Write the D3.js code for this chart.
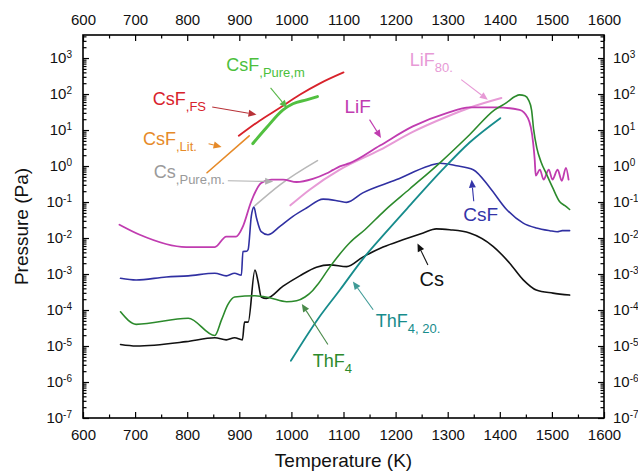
<!DOCTYPE html>
<html>
<head>
<meta charset="utf-8">
<script src="https://cdn.jsdelivr.net/npm/d3@7"></script>
<style>
  body { margin: 0; background: #fff; }
  svg { display: block; font-family: "Liberation Sans", Arial, Helvetica, sans-serif; }
</style>
</head>
<body>
<svg id="chart" width="638" height="472"></svg>
<script>
// Vapour pressure vs temperature (T in K, P in Pa)
const lifT = [670, 709, 798, 853, 875, 894, 907, 923, 942, 962, 984, 1010, 1041, 1067, 1080, 1093, 1112, 1170, 1233, 1298, 1342, 1393, 1438, 1454, 1464, 1467, 1469, 1477, 1484, 1494, 1501, 1511, 1519, 1527, 1532];
const lifP = [2.34e-2, 1.23e-2, 5.6e-3, 5.6e-3, 1.1e-2, 1.1e-2, 2.1e-2, 0.105, 0.34, 0.42, 0.42, 0.36, 0.44, 0.62, 0.78, 0.98, 1.2, 3.7, 12.6, 29.5, 42.7, 42.7, 36.3, 21.4, 4.4, 1.5, 0.54, 0.79, 0.42, 0.79, 0.42, 0.79, 0.39, 0.89, 0.42];

const lif80T = [998, 1035, 1093, 1170, 1233, 1298, 1342, 1403];
const lif80P = [8.1e-2, 0.22, 0.79, 2.8, 8.9, 23.4, 41.7, 77.6];

const csfT = [672, 702, 760, 802, 853, 875, 891, 904, 907, 914, 917, 923, 928, 933, 942, 955, 978, 1003, 1029, 1061, 1093, 1106, 1137, 1202, 1265, 1285, 1317, 1349, 1381, 1413, 1445, 1470, 1496, 1510, 1520, 1534];
const csfP = [7.6e-4, 6.8e-4, 8.3e-4, 8.9e-4, 1.05e-3, 8.9e-4, 1.05e-3, 9.3e-4, 4.2e-3, 4.3e-3, 4.8e-3, 4.0e-2, 7.2e-2, 3.6e-2, 1.5e-2, 1.23e-2, 2.1e-2, 4.0e-2, 6.8e-2, 0.12, 0.105, 9.8e-2, 0.18, 0.42, 1.02, 1.2, 1.02, 0.79, 0.25, 6.2e-2, 2.6e-2, 1.9e-2, 1.6e-2, 1.5e-2, 1.6e-2, 1.6e-2];

const csT = [672, 702, 798, 853, 875, 891, 906, 910, 917, 930, 936, 942, 952, 984, 1016, 1048, 1074, 1106, 1137, 1176, 1214, 1253, 1278, 1304, 1342, 1387, 1419, 1445, 1470, 1502, 1534];
const csP = [1.1e-5, 1.0e-5, 1.32e-5, 1.7e-5, 1.48e-5, 1.7e-5, 1.48e-5, 4.6e-5, 4.6e-5, 1.29e-3, 6.2e-4, 2.3e-4, 2.1e-4, 4.6e-4, 8.9e-4, 1.55e-3, 1.8e-3, 1.6e-3, 2.95e-3, 5.6e-3, 8.9e-3, 1.38e-2, 1.8e-2, 1.7e-2, 1.38e-2, 5.9e-3, 2.0e-3, 6.9e-4, 3.6e-4, 2.95e-4, 2.6e-4];

const thf4T = [672, 702, 802, 853, 866, 878, 891, 930, 958, 991, 1010, 1026, 1041, 1050, 1074, 1112, 1141, 1179, 1227, 1285, 1342, 1390, 1413, 1429, 1438, 1448, 1455, 1461, 1465, 1471, 1479, 1490, 1501, 1515, 1525, 1534];
const thf4P = [8.9e-5, 4.0e-5, 5.9e-5, 1.95e-5, 5.4e-5, 1.41e-4, 2.3e-4, 2.5e-4, 2.2e-4, 1.7e-4, 1.8e-4, 2.3e-4, 3.5e-4, 5.0e-4, 1.58e-3, 7.4e-3, 1.7e-2, 5.8e-2, 0.23, 1.23, 7.4, 36.3, 57.5, 85, 95, 89, 69, 36, 10.2, 3.2, 1.32, 0.58, 0.26, 0.102, 7.9e-2, 6.2e-2];

const thf420T = [999, 1050, 1093, 1137, 1179, 1227, 1290, 1342, 1401];
const thf420P = [3.9e-6, 5.4e-5, 3.6e-4, 2.6e-3, 1.32e-2, 7.9e-2, 0.79, 4.5, 21.4];

const csfFsT = [899, 939, 978, 1016, 1054, 1100];
const csfFsP = [6.9, 18.2, 41.7, 95.5, 195, 398];

const csfPureT = [926, 952, 984, 1003, 1029, 1050];
const csfPureP = [4.2, 11.5, 36.3, 53.7, 69, 85];

const csfLitT = [838, 919];
const csfLitP = [0.65, 6.9];

const csPureT = [930, 978, 1050];
const csPureP = [7.9e-2, 0.30, 1.41];

// Axis ticks
const xMajorTicks = [600, 700, 800, 900, 1000, 1100, 1200, 1300, 1400, 1500, 1600];
const xMinorTicks = [650, 750, 850, 950, 1050, 1150, 1250, 1350, 1450, 1550];
const yExponents = [-7, -6, -5, -4, -3, -2, -1, 0, 1, 2, 3];

// ---------------------------------------------------------------
const svg = d3.select("#chart");
const frame = { left: 83, right: 604, top: 35, bottom: 418 };
const FONT = '"Liberation Sans", Arial, Helvetica, sans-serif';

const x = d3.scaleLinear().domain([600, 1600]).range([frame.left, frame.right]);
const y = d3.scaleLog().domain([1e-7, Math.pow(10, 3.64)]).range([frame.bottom, frame.top]);

const yMajor = yExponents.map(e => Math.pow(10, e));
const yMinor = [];
yExponents.forEach(e => {
  for (let k = 2; k <= 9; k++) {
    const v = k * Math.pow(10, e);
    if (v < y.domain()[1]) yMinor.push(v);
  }
});

function styleAxis(sel) {
  sel.select(".domain").remove();
  sel.attr("font-size", 15).attr("font-family", FONT);
  sel.selectAll(".tick line").attr("stroke", "#000").attr("stroke-width", 1.2);
  sel.selectAll(".tick text").attr("fill", "#111");
}

function powerLabels(sel) {
  sel.selectAll(".tick text").each(function (d) {
    const e = Math.round(Math.log10(d));
    const t = d3.select(this).text("10");
    t.append("tspan").attr("dy", "-0.55em").attr("font-size", 10).text(e);
  });
}

// x axes: bottom and top
svg.append("g").attr("transform", `translate(0,${frame.bottom})`)
  .call(d3.axisBottom(x).tickValues(xMajorTicks).tickSize(-6).tickPadding(11).tickFormat(d3.format("d")))
  .call(styleAxis);
svg.append("g").attr("transform", `translate(0,${frame.bottom})`)
  .call(d3.axisBottom(x).tickValues(xMinorTicks).tickSize(-3.5).tickFormat(""))
  .call(styleAxis);
svg.append("g").attr("transform", `translate(0,${frame.top})`)
  .call(d3.axisTop(x).tickValues(xMajorTicks).tickSize(-6).tickPadding(10).tickFormat(d3.format("d")))
  .call(styleAxis);
svg.append("g").attr("transform", `translate(0,${frame.top})`)
  .call(d3.axisTop(x).tickValues(xMinorTicks).tickSize(-3.5).tickFormat(""))
  .call(styleAxis);

// y axes: left and right (log)
svg.append("g").attr("transform", `translate(${frame.left},0)`)
  .call(d3.axisLeft(y).tickValues(yMajor).tickSize(-6).tickPadding(11))
  .call(styleAxis).call(powerLabels);
svg.append("g").attr("transform", `translate(${frame.left},0)`)
  .call(d3.axisLeft(y).tickValues(yMinor).tickSize(-3.5).tickFormat(""))
  .call(styleAxis);
svg.append("g").attr("transform", `translate(${frame.right},0)`)
  .call(d3.axisRight(y).tickValues(yMajor).tickSize(-6).tickPadding(9))
  .call(styleAxis).call(powerLabels);
svg.append("g").attr("transform", `translate(${frame.right},0)`)
  .call(d3.axisRight(y).tickValues(yMinor).tickSize(-3.5).tickFormat(""))
  .call(styleAxis);

// plot frame
svg.append("rect")
  .attr("x", frame.left).attr("y", frame.top)
  .attr("width", frame.right - frame.left).attr("height", frame.bottom - frame.top)
  .attr("fill", "none").attr("stroke", "#000").attr("stroke-width", 1.6);

// axis titles
svg.append("text")
  .attr("transform", `translate(28,${(frame.top + frame.bottom) / 2}) rotate(-90)`)
  .attr("text-anchor", "middle").attr("font-size", 19).attr("fill", "#111")
  .text("Pressure (Pa)");
svg.append("text")
  .attr("x", (frame.left + frame.right) / 2).attr("y", 467)
  .attr("text-anchor", "middle").attr("font-size", 19).attr("fill", "#111")
  .text("Temperature (K)");

// curves
const series = [
  { T: csfLitT, P: csfLitP, color: "#e68a28", width: 1.6 },
  { T: csPureT, P: csPureP, color: "#b8b8b8", width: 1.6 },
  { T: csfFsT, P: csfFsP, color: "#d8222b", width: 1.8 },
  { T: csfPureT, P: csfPureP, color: "#52c040", width: 3 },
  { T: lif80T, P: lif80P, color: "#e79ad6", width: 2 },
  { T: lifT, P: lifP, color: "#c03cb0", width: 1.8 },
  { T: csfT, P: csfP, color: "#3030a2", width: 1.6 },
  { T: csT, P: csP, color: "#111111", width: 1.6 },
  { T: thf4T, P: thf4P, color: "#2c8a2c", width: 1.6 },
  { T: thf420T, P: thf420P, color: "#178c8c", width: 1.8 }
];

const line = d3.line()
  .x(d => x(d[0]))
  .y(d => y(d[1]))
  .curve(d3.curveMonotoneX);

const plot = svg.append("g");
series.forEach(s => {
  plot.append("path")
    .datum(s.T.map((t, i) => [t, s.P[i]]))
    .attr("d", line)
    .attr("fill", "none")
    .attr("stroke", s.color)
    .attr("stroke-width", s.width)
    .attr("stroke-linejoin", "round")
    .attr("stroke-linecap", "round");
});

// annotations: label anchor and arrow in data units
const notes = [
  { main: "CsF", sub: ",Pure,m", at: [875, 427], size: 18, color: "#4cbf3c",
    arrow: [[960, 148], [992, 40.7]], arrowColor: "#5ab84a" },
  { main: "CsF", sub: ",FS", at: [734, 50.1], size: 18, color: "#d8222b",
    arrow: [[848, 43.7], [933, 26.9]], arrowColor: "#b83238" },
  { main: "CsF", sub: ",Lit.", at: [715, 3.9], size: 18, color: "#e68a28",
    arrow: [[841, 4.17], [866, 3.39]], arrowColor: "#e68a28" },
  { main: "Cs", sub: ",Pure,m.", at: [736, 0.468], size: 18, color: "#9a9a9a",
    arrow: [[878, 0.389], [965, 0.372]], arrowColor: "#b0b0b0" },
  { main: "LiF", sub: "", at: [1102, 29.5], size: 19, color: "#c03cb0",
    arrow: [[1150, 19.5], [1172, 6.03]], arrowColor: "#c03cb0" },
  { main: "LiF", sub: "80.", at: [1227, 589], size: 18, color: "#e79ad6",
    arrow: [[1326, 251], [1377, 69.2]], arrowColor: "#e79ad6" },
  { main: "CsF", sub: "", at: [1330, 0.0288], size: 19, color: "#3434a8",
    arrow: [[1350, 0.105], [1346, 0.417]], arrowColor: "#3434a8" },
  { main: "Cs", sub: "", at: [1246, 4.68e-4], size: 20, color: "#111",
    arrow: [[1262, 1.78e-3], [1242, 7.08e-3]], arrowColor: "#111" },
  { main: "ThF", sub: "4, 20.", at: [1162, 3.47e-5], size: 18, color: "#178c8c",
    arrow: [[1157, 1.02e-4], [1118, 6.17e-4]], arrowColor: "#3e9a96" },
  { main: "ThF", sub: "4", at: [1041, 2.69e-6], size: 18, color: "#2c8a2c",
    arrow: [[1070, 1.10e-5], [1020, 1.48e-4]], arrowColor: "#4a8a4a" }
];

const ann = svg.append("g");
notes.forEach(n => {
  const t = ann.append("text")
    .attr("x", x(n.at[0])).attr("y", y(n.at[1]))
    .attr("font-size", n.size).attr("fill", n.color)
    .text(n.main);
  if (n.sub) {
    t.append("tspan").attr("dy", 6).attr("font-size", 13).text(n.sub);
  }
  const x1 = x(n.arrow[0][0]), y1 = y(n.arrow[0][1]);
  const x2 = x(n.arrow[1][0]), y2 = y(n.arrow[1][1]);
  const ang = Math.atan2(y2 - y1, x2 - x1);
  const len = 8, half = 3.5;
  const bx = x2 - len * Math.cos(ang), by = y2 - len * Math.sin(ang);
  ann.append("line")
    .attr("x1", x1).attr("y1", y1).attr("x2", bx).attr("y2", by)
    .attr("stroke", n.arrowColor).attr("stroke-width", 1.1);
  const px = -Math.sin(ang) * half, py = Math.cos(ang) * half;
  ann.append("path")
    .attr("d", `M${x2},${y2}L${bx + px},${by + py}L${bx - px},${by - py}Z`)
    .attr("fill", n.arrowColor);
});
</script>
</body>
</html>
